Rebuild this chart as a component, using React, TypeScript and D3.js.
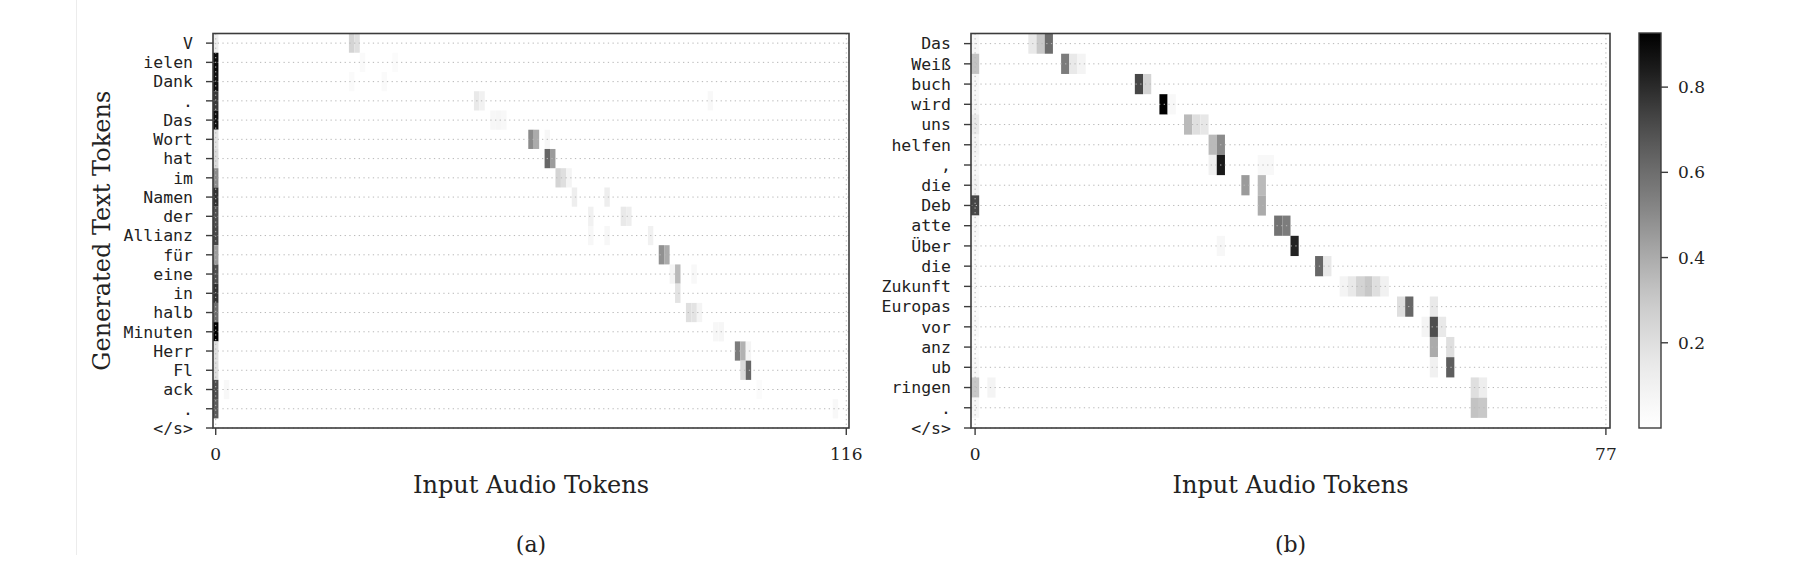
import { scaleLinear, scaleSequential, interpolateGreys, range } from 'd3';

// token labels (y axis), the last one sits on the bottom edge
const leftTokens = ['V', 'ielen', 'Dank', '.', 'Das', 'Wort', 'hat', 'im', 'Namen', 'der', 'Allianz', 'für', 'eine', 'in', 'halb', 'Minuten', 'Herr', 'Fl', 'ack', '.', '</s>'];
const rightTokens = ['Das', 'Weiß', 'buch', 'wird', 'uns', 'helfen', ',', 'die', 'Deb', 'atte', 'Über', 'die', 'Zukunft', 'Europas', 'vor', 'anz', 'ub', 'ringen', '.', '</s>'];

const leftAudioCount = 117;
const rightAudioCount = 78;

// attention on the first audio token, one value per generated token
const leftFirstCol = [0.12, 0.9, 0.88, 0.76, 0.88, 0.18, 0.22, 0.5, 0.78, 0.7, 0.72, 0.45, 0.7, 0.78, 0.6, 0.93, 0.2, 0.2, 0.7, 0.66];
const rightFirstCol = [0.05, 0.32, 0.05, 0.06, 0.15, 0.08, 0.05, 0.08, 0.72, 0.05, 0.04, 0.03, 0.03, 0.03, 0.05, 0.03, 0.05, 0.3, 0.06];

// remaining attention: [token row, audio column, weight]
const leftPeaks: [number, number, number][] = [
  [0, 25, 0.25], [0, 26, 0.2],
  [1, 27, 0.04], [1, 33, 0.03], [2, 25, 0.04], [2, 31, 0.04],
  [3, 48, 0.15], [3, 49, 0.1], [3, 91, 0.05],
  [4, 51, 0.06], [4, 52, 0.07], [4, 53, 0.05],
  [5, 58, 0.5], [5, 59, 0.4], [5, 61, 0.06],
  [6, 61, 0.62], [6, 62, 0.45],
  [7, 63, 0.25], [7, 64, 0.2], [7, 65, 0.08],
  [8, 66, 0.12], [8, 72, 0.12],
  [9, 69, 0.1], [9, 75, 0.15], [9, 76, 0.12],
  [10, 69, 0.06], [10, 72, 0.06], [10, 80, 0.1],
  [11, 82, 0.48], [11, 83, 0.4],
  [12, 84, 0.08], [12, 85, 0.35], [12, 88, 0.05],
  [13, 85, 0.18],
  [14, 87, 0.2], [14, 88, 0.18], [14, 89, 0.08],
  [15, 92, 0.06], [15, 93, 0.07],
  [16, 96, 0.55], [16, 97, 0.38], [16, 98, 0.08],
  [17, 97, 0.22], [17, 98, 0.62],
  [18, 2, 0.05], [18, 100, 0.03],
  [19, 114, 0.05],
];

const rightPeaks: [number, number, number][] = [
  [0, 7, 0.15], [0, 8, 0.3], [0, 9, 0.6],
  [1, 11, 0.55], [1, 12, 0.15], [1, 13, 0.08],
  [2, 20, 0.72], [2, 21, 0.25],
  [3, 23, 0.93], [3, 24, 0.05],
  [4, 26, 0.35], [4, 27, 0.2], [4, 28, 0.16],
  [5, 29, 0.35], [5, 30, 0.5],
  [6, 29, 0.1], [6, 30, 0.85], [6, 35, 0.05], [6, 36, 0.05],
  [7, 33, 0.45], [7, 35, 0.35],
  [8, 35, 0.4],
  [9, 37, 0.58], [9, 38, 0.55],
  [10, 30, 0.06], [10, 39, 0.82],
  [11, 42, 0.62], [11, 43, 0.15],
  [12, 45, 0.08], [12, 46, 0.15], [12, 47, 0.25], [12, 48, 0.3], [12, 49, 0.2], [12, 50, 0.1],
  [13, 52, 0.2], [13, 53, 0.62], [13, 56, 0.15],
  [14, 55, 0.08], [14, 56, 0.7], [14, 57, 0.15],
  [15, 56, 0.4], [15, 58, 0.2],
  [16, 56, 0.1], [16, 58, 0.65],
  [17, 2, 0.08], [17, 61, 0.2], [17, 62, 0.12],
  [18, 61, 0.32], [18, 62, 0.3],
];

const colorTicks = [0.2, 0.4, 0.6, 0.8];
const colorMax = 0.927;

const SERIF = '"DejaVu Serif", serif';
const MONO = '"DejaVu Sans Mono", monospace';
const FRAME = '#3c3c3c';

const color = scaleSequential(interpolateGreys).domain([0, colorMax]);

interface PanelProps {
  tokens: string[];
  audioCount: number;
  firstCol: number[];
  peaks: [number, number, number][];
  left: number;
  right: number;
  top: number;
  bottom: number;
  caption: string;
}

function Panel({ tokens, audioCount, firstCol, peaks, left, right, top, bottom, caption }: PanelProps) {
  const x = scaleLinear().domain([-0.5, audioCount - 0.5]).range([left, right]);
  const y = scaleLinear().domain([-0.5, tokens.length - 1]).range([top, bottom]);
  const cells: [number, number, number][] = [
    ...firstCol.map((v, i) => [i, 0, v] as [number, number, number]),
    ...peaks,
  ];
  const xTicks = [0, audioCount - 1];
  const mid = (left + right) / 2;

  return (
    <g>
      {/* heatmap cells */}
      {cells.map(([r, c, v], i) => (
        <rect
          key={i}
          x={x(c - 0.5)}
          y={y(r - 0.5)}
          width={x(c + 0.5) - x(c - 0.5)}
          height={y(r + 0.5) - y(r - 0.5)}
          fill={color(v)}
        />
      ))}

      {/* dotted grid */}
      {tokens.map((_, i) => (
        <line key={'h' + i} x1={left} x2={right} y1={y(i)} y2={y(i)}
          stroke="#b8b8b8" strokeWidth={1} strokeDasharray="1.3 3.4" />
      ))}
      {xTicks.map((t) => (
        <line key={'v' + t} x1={x(t)} x2={x(t)} y1={top} y2={bottom}
          stroke="#b8b8b8" strokeWidth={1} strokeDasharray="1.3 3.4" />
      ))}

      <rect x={left} y={top} width={right - left} height={bottom - top}
        fill="none" stroke={FRAME} strokeWidth={1.6} />

      {/* y ticks */}
      {tokens.map((tok, i) => (
        <g key={'yt' + i}>
          <line x1={left - 7} x2={left} y1={y(i)} y2={y(i)} stroke={FRAME} strokeWidth={1.4} />
          <text x={left - 20} y={y(i)} dy="0.35em" textAnchor="end"
            fontFamily={MONO} fontSize={16.5} fill="#222">{tok}</text>
        </g>
      ))}

      {/* x ticks */}
      {xTicks.map((t) => (
        <g key={'xt' + t}>
          <line x1={x(t)} x2={x(t)} y1={bottom} y2={bottom + 7} stroke={FRAME} strokeWidth={1.4} />
          <text x={x(t)} y={bottom + 32} textAnchor="middle"
            fontFamily={SERIF} fontSize={17} fill="#222">{t}</text>
        </g>
      ))}

      <text x={mid} y={bottom + 65} textAnchor="middle" fontFamily={SERIF} fontSize={24} fill="#222">
        Input Audio Tokens
      </text>
      <text x={mid} y={bottom + 124} textAnchor="middle" fontFamily={SERIF} fontSize={22} fill="#222">
        {caption}
      </text>
    </g>
  );
}

function ColorBar({ left, width, top, bottom }: { left: number; width: number; top: number; bottom: number }) {
  const y = scaleLinear().domain([0, colorMax]).range([bottom, top]);
  const stops = range(0, 1.0001, 0.05);
  return (
    <g>
      <defs>
        <linearGradient id="greys" x1="0" y1="1" x2="0" y2="0">
          {stops.map((s) => (
            <stop key={s} offset={`${s * 100}%`} stopColor={interpolateGreys(s)} />
          ))}
        </linearGradient>
      </defs>
      <rect x={left} y={top} width={width} height={bottom - top} fill="url(#greys)"
        stroke={FRAME} strokeWidth={1.4} />
      {colorTicks.map((t) => (
        <g key={t}>
          <line x1={left + width} x2={left + width + 7} y1={y(t)} y2={y(t)} stroke={FRAME} strokeWidth={1.4} />
          <text x={left + width + 17} y={y(t)} dy="0.36em" fontFamily={SERIF} fontSize={17} fill="#222">
            {t.toFixed(1)}
          </text>
        </g>
      ))}
    </g>
  );
}

export default function App() {
  const top = 33.5;
  const bottom = 428;
  return (
    <div style={{ position: 'absolute', left: 0, top: 0 }}>
      <svg width={1800} height={588} style={{ display: 'block', background: '#fff' }}>
        <line x1={76.5} x2={76.5} y1={0} y2={555} stroke="#ececec" strokeWidth={1} />
        <text transform={`translate(110,${(top + bottom) / 2}) rotate(-90)`} textAnchor="middle"
          fontFamily={SERIF} fontSize={24} fill="#222">
          Generated Text Tokens
        </text>
        <Panel tokens={leftTokens} audioCount={leftAudioCount} firstCol={leftFirstCol} peaks={leftPeaks}
          left={213} right={849} top={top} bottom={bottom} caption="(a)" />
        <Panel tokens={rightTokens} audioCount={rightAudioCount} firstCol={rightFirstCol} peaks={rightPeaks}
          left={971} right={1610} top={top} bottom={bottom} caption="(b)" />
        <ColorBar left={1639} width={22} top={33} bottom={428} />
      </svg>
    </div>
  );
}
